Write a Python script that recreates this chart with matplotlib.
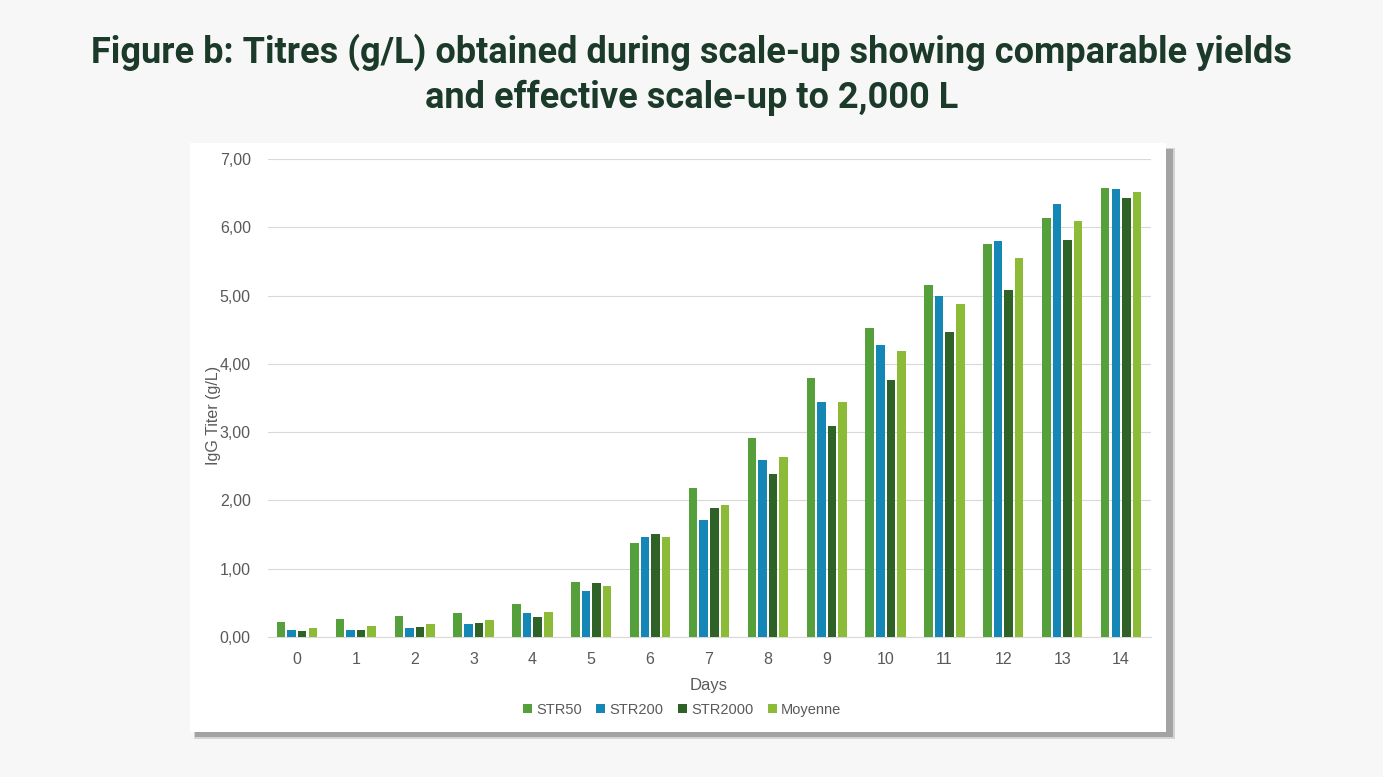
import numpy as np
import matplotlib.pyplot as plt
from matplotlib.patches import Rectangle

days = list(range(15))
str50 = [0.22, 0.26, 0.31, 0.35, 0.48, 0.80, 1.38, 2.18, 2.91, 3.79, 4.52, 5.16, 5.76, 6.13, 6.58]
str200 = [0.10, 0.10, 0.13, 0.19, 0.35, 0.67, 1.46, 1.71, 2.59, 3.44, 4.27, 5.00, 5.80, 6.34, 6.56]
str2000 = [0.09, 0.10, 0.15, 0.20, 0.29, 0.79, 1.51, 1.89, 2.39, 3.09, 3.76, 4.46, 5.08, 5.81, 6.43]
moyenne = [0.13, 0.16, 0.19, 0.25, 0.36, 0.74, 1.46, 1.93, 2.64, 3.44, 4.19, 4.88, 5.55, 6.09, 6.51]

series_names = ["STR50", "STR200", "STR2000", "Moyenne"]
colors = ["#56a03b", "#1487b6", "#2f6227", "#8cbb38"]
y_ticks = [0, 1, 2, 3, 4, 5, 6, 7]
y_tick_labels = ["0,00", "1,00", "2,00", "3,00", "4,00", "5,00", "6,00", "7,00"]

title = "Figure b: Titres (g/L) obtained during scale-up showing comparable yields\nand effective scale-up to 2,000 L"

plt.rcParams["font.family"] = ["Liberation Sans", "DejaVu Sans"]

fig = plt.figure(figsize=(13.83, 7.77), dpi=100)
fig.patch.set_facecolor("#f7f7f7")

# chart panel with a soft shadow (pixel coords -> figure fraction)
W, H = 1383, 777
def frac_rect(x0, y0, x1, y1, **kw):
    return Rectangle((x0 / W, 1 - y1 / H), (x1 - x0) / W, (y1 - y0) / H,
                     transform=fig.transFigure, **kw)

fig.patches.append(frac_rect(194, 148, 1175, 739, facecolor="#d4d4d4", edgecolor="none", zorder=-3))
fig.patches.append(frac_rect(195, 149, 1173, 737, facecolor="#a3a3a3", edgecolor="none", zorder=-2))
fig.patches.append(frac_rect(190, 143, 1166, 732, facecolor="white", edgecolor="none", zorder=-1))

ax = fig.add_axes([267.5 / W, 1 - 637 / H, 883 / W, 478 / H])
ax.set_facecolor("none")

x = np.arange(len(days))
pitch = 0.18
width = 0.145
all_series = [str50, str200, str2000, moyenne]
for i, (vals, name, c) in enumerate(zip(all_series, series_names, colors)):
    ax.bar(x + (i - 1.5) * pitch, vals, width=width, color=c, label=name, zorder=3)

ax.set_xlim(-0.5, 14.5)
ax.set_ylim(0, 7)
ax.set_yticks(y_ticks)
ax.set_yticklabels(y_tick_labels)
ax.set_xticks(x)
ax.set_xticklabels([str(d) for d in days])
ax.tick_params(axis="both", length=0, labelsize=11.5, colors="#595959")
ax.tick_params(axis="y", pad=12)
ax.tick_params(axis="x", pad=11)
ax.grid(axis="y", color="#d9d9d9", linewidth=0.8, zorder=0)
for s in ["top", "right", "left"]:
    ax.spines[s].set_visible(False)
ax.spines["bottom"].set_color("#d9d9d9")
ax.spines["bottom"].set_linewidth(0.8)

ax.set_xlabel("Days", fontsize=12, color="#595959", labelpad=8)
fig.text(213 / W, 1 - 415 / H, "IgG Titer (g/L)", rotation=90, ha="center", va="center",
         fontsize=11.5, color="#595959")

ax.legend(loc="center", bbox_to_anchor=(682 / W, 1 - 710 / H), bbox_transform=fig.transFigure,
          ncol=4, frameon=False, fontsize=10.5, labelcolor="#595959",
          handlelength=0.6, handleheight=0.6, handletextpad=0.3, columnspacing=1.0)

fig.text(0.5, 1 - 75 / H, title, ha="center", va="center", fontsize=26, fontweight="semibold",
         color="#1b3a2a", linespacing=1.3, family=["Roboto", "DejaVu Sans"])

fig.savefig("out.png", dpi=100, facecolor=fig.get_facecolor())
